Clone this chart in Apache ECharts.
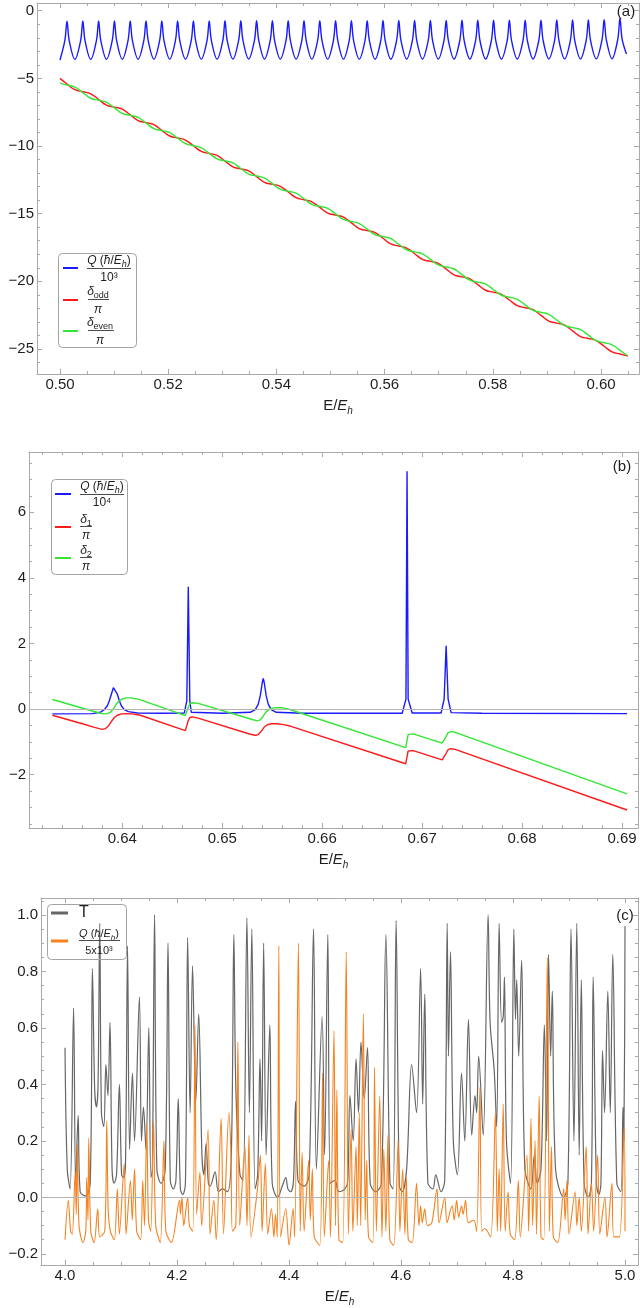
<!DOCTYPE html>
<html><head><meta charset="utf-8">
<script src="https://cdn.jsdelivr.net/npm/echarts@6/dist/echarts.min.js"></script>
<style>html,body{margin:0;padding:0;background:#fff}#c{width:640px;height:1308px}</style>
</head><body><div id="c"></div><script>
// ---------------- DATA ----------------
// Panel (a): Q/10^3 (blue)
const eAQ = [0.5000,
0.50090,0.50130,0.50170,0.50276, 0.50382,0.50422,0.50462,0.50568, 0.50674,0.50714,0.50754,0.50860,
0.50966,0.51006,0.51046,0.51152, 0.51258,0.51298,0.51338,0.51444, 0.51550,0.51590,0.51630,0.51736,
0.51842,0.51882,0.51922,0.52028, 0.52134,0.52174,0.52214,0.52320, 0.52426,0.52466,0.52506,0.52612,
0.52718,0.52758,0.52798,0.52904, 0.53010,0.53050,0.53090,0.53196, 0.53302,0.53342,0.53382,0.53488,
0.53594,0.53634,0.53674,0.53780, 0.53886,0.53926,0.53966,0.54072, 0.54178,0.54218,0.54258,0.54364,
0.54470,0.54510,0.54550,0.54656, 0.54762,0.54802,0.54842,0.54948, 0.55054,0.55094,0.55134,0.55240,
0.55346,0.55386,0.55426,0.55532, 0.55638,0.55678,0.55718,0.55824, 0.55930,0.55970,0.56010,0.56116,
0.56222,0.56262,0.56302,0.56408, 0.56514,0.56554,0.56594,0.56700, 0.56806,0.56846,0.56886,0.56992,
0.57098,0.57138,0.57178,0.57284, 0.57390,0.57430,0.57470,0.57576, 0.57682,0.57722,0.57762,0.57868,
0.57974,0.58014,0.58054,0.58160, 0.58266,0.58306,0.58346,0.58452, 0.58558,0.58598,0.58638,0.58744,
0.58850,0.58890,0.58930,0.59036, 0.59142,0.59182,0.59222,0.59328, 0.59434,0.59474,0.59514,0.59620,
0.59726,0.59766,0.59806,0.59912, 0.60018,0.60058,0.60098,0.60204, 0.60310,0.60350,0.60390,0.60470];
const qA = [-3.65,
-2.2,-0.78,-2.2,-3.60, -2.2,-0.76,-2.2,-3.60, -2.2,-0.76,-2.2,-3.59,
-2.2,-0.75,-2.2,-3.59, -2.2,-0.75,-2.2,-3.59, -2.2,-0.75,-2.2,-3.58,
-2.2,-0.75,-2.2,-3.58, -2.2,-0.75,-2.2,-3.58, -2.2,-0.75,-2.2,-3.58,
-2.2,-0.75,-2.2,-3.58, -2.2,-0.74,-2.2,-3.58, -2.2,-0.74,-2.2,-3.58,
-2.2,-0.74,-2.2,-3.58, -2.2,-0.74,-2.2,-3.58, -2.2,-0.74,-2.2,-3.58,
-2.2,-0.73,-2.2,-3.58, -2.2,-0.73,-2.2,-3.58, -2.2,-0.73,-2.2,-3.58,
-2.2,-0.73,-2.2,-3.58, -2.2,-0.73,-2.2,-3.58, -2.2,-0.72,-2.2,-3.58,
-2.2,-0.72,-2.2,-3.57, -2.2,-0.72,-2.2,-3.57, -2.2,-0.72,-2.2,-3.57,
-2.2,-0.72,-2.2,-3.57, -2.2,-0.71,-2.2,-3.57, -2.2,-0.71,-2.2,-3.57,
-2.2,-0.71,-2.2,-3.57, -2.2,-0.70,-2.2,-3.57, -2.2,-0.70,-2.2,-3.56,
-2.2,-0.70,-2.2,-3.56, -2.2,-0.69,-2.2,-3.56, -2.2,-0.69,-2.2,-3.56,
-2.2,-0.68,-2.2,-3.56, -2.15,-0.66,-2.15,-3.55, -2.1,-0.55,-2.1,-3.20];
// Panel (a): delta_odd/pi (red) and delta_even/pi (green), sampled at resonances and midpoints
const eA = [0.5000,0.50130,0.50276,0.50422,0.50568,0.50714,0.50860,0.51006,0.51152,0.51298,0.51444,0.51590,
0.51736,0.51882,0.52028,0.52174,0.52320,0.52466,0.52612,0.52758,0.52904,0.53050,0.53196,0.53342,0.53488,
0.53634,0.53780,0.53926,0.54072,0.54218,0.54364,0.54510,0.54656,0.54802,0.54948,0.55094,0.55240,0.55386,
0.55532,0.55678,0.55824,0.55970,0.56116,0.56262,0.56408,0.56554,0.56700,0.56846,0.56992,0.57138,0.57284,
0.57430,0.57576,0.57722,0.57868,0.58014,0.58160,0.58306,0.58452,0.58598,0.58744,0.58890,0.59036,0.59182,
0.59328,0.59474,0.59620,0.59766,0.59912,0.60058,0.60204,0.60350,0.60496];
const redA = [-5.00,-5.42,-5.84,-5.99, -6.14,-6.56,-6.98,-7.13, -7.28,-7.70,-8.12,-8.27, -8.42,-8.84,-9.26,-9.41,
-9.56,-9.98,-10.40,-10.55, -10.70,-11.12,-11.54,-11.69, -11.84,-12.26,-12.68,-12.83, -12.98,-13.40,-13.82,-13.97,
-14.12,-14.54,-14.96,-15.11, -15.26,-15.68,-16.10,-16.25, -16.40,-16.82,-17.24,-17.39, -17.54,-17.96,-18.38,-18.53,
-18.68,-19.10,-19.52,-19.67, -19.82,-20.24,-20.66,-20.81, -20.96,-21.38,-21.80,-21.95, -22.10,-22.52,-22.94,-23.09,
-23.24,-23.66,-24.08,-24.23, -24.38,-24.80,-25.22,-25.37, -25.52];
const greenA = [-5.35,-5.50,-5.65,-6.06, -6.47,-6.62,-6.77,-7.18, -7.59,-7.74,-7.89,-8.30, -8.71,-8.86,-9.01,-9.42,
-9.83,-9.98,-10.13,-10.54, -10.95,-11.10,-11.25,-11.66, -12.07,-12.22,-12.37,-12.78, -13.19,-13.34,-13.49,-13.90,
-14.31,-14.46,-14.61,-15.02, -15.43,-15.58,-15.73,-16.14, -16.55,-16.70,-16.85,-17.26, -17.67,-17.82,-17.97,-18.38,
-18.79,-18.94,-19.09,-19.50, -19.91,-20.06,-20.21,-20.62, -21.03,-21.18,-21.33,-21.74, -22.15,-22.30,-22.45,-22.86,
-23.27,-23.42,-23.57,-23.98, -24.39,-24.54,-24.69,-25.10, -25.51];

// Panel (b): Q/10^4 (blue), delta_1/pi (red), delta_2/pi (green)
const eBQ = [0.6330,0.6370,0.6378,0.6382,0.6385,0.6387,0.6389,0.6391,0.6392,0.6393,0.6395,0.6397,0.6399,0.6402,0.6406,0.6415,
0.6440,0.6462,0.64645,0.6466,0.64675,0.6469,0.6500,0.6528,0.6533,0.6536,0.6538,0.6540,0.6541,0.6542,0.6544,0.6546,0.6549,0.6554,
0.6580,0.6680,0.66838,0.66849,0.6686,0.6690,0.6719,0.6722,0.6724,0.6726,0.6729,0.6760,0.6905];
const qB = [-0.15,-0.14,-0.10,-0.02,0.10,0.25,0.45,0.65,0.70,0.65,0.45,0.25,0.10,-0.02,-0.08,-0.12,
-0.13,-0.12,0.25,3.73,0.25,-0.10,-0.13,-0.10,-0.02,0.15,0.40,0.80,0.93,0.80,0.40,0.15,-0.02,-0.10,
-0.13,-0.13,0.30,7.25,0.30,-0.12,-0.12,0.30,1.93,0.30,-0.11,-0.13,-0.14];
const eBR = [0.6330,0.6360,0.6372,0.6377,0.6380,0.6383,0.6386,0.6389,0.6392,0.6395,0.6399,0.6404,0.6410,0.6418,0.6463,0.64645,
0.6466,0.64675,0.6470,0.6475,0.6528,0.6533,0.6536,0.6539,0.6542,0.6545,0.6549,0.6554,0.6560,0.6568,0.66835,0.6684,
0.66849,0.6686,0.6688,0.6691,0.6720,0.6722,0.6724,0.6726,0.6729,0.6733,0.6905];
const rB = [-0.19,-0.45,-0.56,-0.60,-0.62,-0.60,-0.52,-0.38,-0.26,-0.19,-0.15,-0.14,-0.15,-0.19,-0.66,-0.60,
-0.35,-0.26,-0.24,-0.27,-0.77,-0.80,-0.78,-0.68,-0.55,-0.48,-0.45,-0.45,-0.47,-0.52,-1.67,-1.62,
-1.45,-1.28,-1.25,-1.27,-1.55,-1.50,-1.35,-1.24,-1.21,-1.23,-3.08];
const eBG = [0.6330,0.6370,0.6378,0.6382,0.6385,0.6388,0.6391,0.6394,0.6397,0.6400,0.6404,0.6409,0.6416,0.6463,0.64645,0.6466,
0.64675,0.6470,0.6476,0.6530,0.6535,0.6538,0.6541,0.6544,0.6548,0.6553,0.6559,0.6566,0.66835,0.6684,0.66849,0.6686,
0.6688,0.6691,0.6720,0.6722,0.6724,0.6726,0.6729,0.6733,0.6905];
const gB = [0.29,-0.06,-0.13,-0.15,-0.14,-0.10,0.00,0.15,0.25,0.31,0.34,0.34,0.30,-0.20,-0.15,0.05,
0.16,0.19,0.17,-0.32,-0.36,-0.33,-0.22,-0.08,0.01,0.04,0.04,0.00,-1.18,-1.13,-0.96,-0.78,
-0.74,-0.76,-1.04,-0.99,-0.84,-0.72,-0.69,-0.71,-2.59];

// Panel (c): T (gray)
const eT = [4.000,4.004,4.009,4.0153,4.019,4.0234,4.027,4.0365,4.045,4.0489,
4.053,4.0562,4.059,4.062,4.065,4.0693,4.073,4.0766,4.0803,4.084,
4.0876,4.092,4.0971,4.101,4.1044,4.108,4.1117,4.1153,4.1204,4.1241,
4.1328,4.1365,4.1401,4.1445,4.1496,4.1533,4.156,4.1599,4.164,4.1715,
4.179,4.1839,4.188,4.1934,4.198,4.2022,4.206,4.2102,4.215,4.219,
4.2234,4.2277,4.2336,4.2387,4.2445,4.248,4.2518,4.256,4.2591,4.2679,
4.274,4.281,4.29,4.297,4.3015,4.3051,4.3124,4.318,4.3248,4.3292,
4.3336,4.3394,4.344,4.3482,4.3511,4.3547,4.3591,4.3657,4.37,4.3796,
4.388,4.3942,4.398,4.4029,4.408,4.4117,4.416,4.427,4.436,4.4438,
4.4489,4.4591,4.4635,4.4693,4.474,4.4818,4.4891,4.5,4.505,4.5088,
4.5146,4.5197,4.5241,4.5285,4.5343,4.5401,4.545,4.5547,4.565,4.573,
4.5803,4.586,4.5912,4.597,4.6022,4.61,4.619,4.6277,4.635,4.6387,
4.6423,4.648,4.6569,4.662,4.6715,4.678,4.6825,4.6847,4.6883,4.6934,
4.7007,4.708,4.7139,4.7204,4.7263,4.7321,4.735,4.7387,4.7467,4.7555,
4.7591,4.7664,4.7708,4.7752,4.7796,4.7825,4.7847,4.7883,4.7956,4.8015,
4.8044,4.8066,4.8102,4.8153,4.8212,4.8321,4.838,4.8431,4.85,4.856,
4.86,4.8635,4.8672,4.8701,4.8759,4.8905,4.898,4.9036,4.9088,4.9139,
4.9182,4.9219,4.927,4.9343,4.94,4.9431,4.9489,4.9533,4.957,4.9599,
4.9635,4.9693,4.9737,4.9781,4.9854,4.9927,4.9964,4.998,5.0];
const tC = [0.53,0.10,0.03,0.67,0.05,0.29,0.02,0.005,0.05,0.81,
0.38,0.32,0.40,0.97,0.30,0.25,0.47,0.36,0.62,0.10,
0.05,0.08,0.40,0.08,0.07,0.12,0.89,0.17,0.44,0.20,
0.71,0.20,0.32,0.17,0.60,0.07,0.10,1.00,0.10,0.05,
0.10,0.90,0.06,0.03,0.06,0.35,0.03,0.01,0.05,0.92,
0.30,0.82,0.34,0.65,0.15,0.08,0.19,0.05,0.04,0.09,
0.02,0.03,0.02,0.15,0.93,0.38,0.08,0.06,0.99,0.30,
0.95,0.03,0.08,0.49,0.20,0.90,0.15,0.61,0.05,0.00,
0.04,0.07,0.03,0.02,0.06,0.34,0.06,0.04,0.08,0.95,
0.10,0.64,0.15,0.93,0.05,0.06,0.02,0.03,0.06,0.36,
0.20,0.49,0.30,0.55,0.35,0.53,0.05,0.02,0.05,0.93,
0.05,0.03,0.98,0.04,0.02,0.10,0.47,0.30,0.81,0.33,
0.72,0.05,0.03,0.08,0.02,0.06,0.97,0.50,0.87,0.20,
0.08,0.44,0.20,0.63,0.22,0.36,0.30,0.50,0.22,1.00,
0.62,0.45,0.25,0.97,0.62,0.64,0.78,0.20,0.05,0.95,
0.63,0.77,0.50,0.84,0.10,0.03,0.15,0.05,0.10,0.61,
0.20,0.86,0.50,0.73,0.10,0.00,0.05,0.95,0.20,0.97,
0.15,0.77,0.05,0.00,0.05,0.78,0.05,0.01,0.05,0.52,
0.30,0.73,0.30,0.86,0.05,0.02,0.32,0.20,0.96];
// Panel (c): Q/(5x10^3) (orange)
const eQc = [4.000,4.0058,4.010,4.013,4.0182,4.020,4.0219,4.025,4.032,4.037,
4.0387,4.041,4.0423,4.046,4.052,4.0584,4.062,4.071,4.0745,4.077,
4.081,4.088,4.0934,4.097,4.1058,4.109,4.1168,4.120,4.1241,4.128,
4.135,4.1387,4.142,4.146,4.149,4.153,4.158,4.162,4.170,4.1766,
4.180,4.190,4.2044,4.206,4.2088,4.212,4.219,4.222,4.228,4.2321,
4.235,4.2409,4.244,4.2555,4.259,4.2657,4.270,4.2788,4.283,4.2927,
4.2963,4.299,4.305,4.3088,4.312,4.3212,4.325,4.3285,4.332,4.3431,
4.3489,4.352,4.3577,4.362,4.3686,4.373,4.3759,4.379,4.3818,4.385,
4.3942,4.400,4.4073,4.410,4.4168,4.420,4.4234,4.427,4.435,4.438,
4.4416,4.445,4.455,4.4599,4.463,4.4708,4.474,4.4803,4.483,4.4854,
4.489,4.496,4.5022,4.506,4.5109,4.514,4.5197,4.522,4.5255,4.528,
4.5328,4.536,4.5387,4.542,4.550,4.5526,4.556,4.562,4.566,4.5693,
4.573,4.5766,4.580,4.587,4.5949,4.598,4.6029,4.607,4.6095,4.613,
4.620,4.6277,4.632,4.635,4.638,4.6423,4.647,4.655,4.6642,4.668,
4.6781,4.682,4.6912,4.695,4.6993,4.703,4.708,4.711,4.7153,4.720,
4.7299,4.735,4.7409,4.744,4.7496,4.760,4.7686,4.772,4.7752,4.778,
4.7825,4.786,4.7912,4.795,4.803,4.8095,4.813,4.8248,4.828,4.8321,
4.835,4.8394,4.842,4.8467,4.850,4.855,4.8613,4.865,4.8686,4.872,
4.880,4.8905,4.893,4.8964,4.900,4.9109,4.914,4.9182,4.922,4.9307,
4.934,4.9401,4.944,4.9511,4.955,4.9642,4.968,4.9766,4.980,4.990,
4.9985,5.000];
const qC = [-0.15,-0.01,-0.12,-0.13,0.09,-0.06,0.19,-0.10,-0.16,-0.12,
0.07,-0.08,0.21,-0.12,-0.16,-0.04,-0.14,-0.12,0.27,-0.04,
-0.12,-0.15,0.03,-0.13,0.12,-0.13,0.06,-0.08,0.10,-0.12,
-0.15,0.06,-0.10,0.26,-0.08,-0.12,0.27,-0.10,-0.16,0.20,
-0.12,-0.16,-0.01,-0.06,0.00,-0.10,0.00,-0.10,-0.12,0.61,
-0.06,0.09,-0.10,0.24,-0.13,-0.01,-0.15,0.28,-0.13,0.30,
0.15,-0.12,-0.10,0.55,-0.10,0.18,-0.10,0.22,-0.14,0.02,
0.15,-0.12,0.12,-0.13,-0.04,-0.14,-0.06,-0.14,0.89,-0.14,
-0.04,-0.17,-0.04,-0.14,0.90,-0.12,0.16,-0.12,0.13,-0.08,
0.10,-0.14,-0.17,0.44,-0.14,0.13,-0.14,0.59,-0.10,0.38,
-0.15,-0.16,0.87,-0.13,0.24,-0.12,0.18,-0.10,0.30,-0.10,
0.65,-0.08,0.13,-0.14,-0.16,0.46,-0.12,0.36,-0.14,0.17,
-0.12,0.22,-0.15,-0.17,0.20,-0.12,0.10,-0.13,0.07,-0.15,
-0.16,0.05,-0.10,-0.03,-0.09,-0.04,-0.10,-0.09,0.03,-0.09,
0.00,-0.09,-0.03,-0.08,-0.01,-0.07,-0.03,-0.06,-0.01,-0.09,
-0.08,-0.12,0.39,-0.12,-0.11,-0.14,0.30,-0.12,0.10,-0.12,
0.33,-0.12,0.02,-0.13,-0.15,0.06,-0.14,0.15,-0.12,0.28,
-0.10,0.20,-0.13,0.36,-0.14,-0.15,0.85,-0.12,0.18,-0.14,
-0.16,0.03,-0.08,0.06,-0.13,0.02,-0.10,0.00,-0.12,0.18,
-0.13,0.05,-0.12,0.15,-0.13,0.00,-0.14,0.05,-0.14,-0.14,
0.25,-0.12];

// ---------------- STYLE / LAYOUT ----------------
const FONT = "'Liberation Sans', Arial, Helvetica, sans-serif";
const TXT = '#1e1e1e';
const AXC = '#a9a9a9';
const C_BLUE = '#1a1aff', C_RED = '#ff1a1a', C_GREEN = '#33e633', C_GRAY = '#666666', C_ORANGE = '#f5821f';

const zip = (xs, ys) => xs.map((x, i) => [x, ys[i]]);
function ticks(a, b, step) { const n = Math.round((b - a) / step); const o = []; for (let i = 0; i <= n; i++) o.push(+(a + i * step).toFixed(6)); return o; }
const fmtMinus = s => s.replace('-', '\u2212');

const PANELS = [
  { rect: {left: 37, top: 3, width: 602, height: 371}, xr: [0.49575, 0.60702], yr: [-26.85, 0.57],
    xMaj: ticks(0.50, 0.60, 0.02), xMin: ticks(0.50, 0.605, 0.005), xDec: 2,
    yMaj: ticks(-25, 0, 5), yMin: ticks(-26, 0, 1), yDec: 0 },
  { rect: {left: 29, top: 452, width: 609, height: 376}, xr: [0.63066, 0.6916], yr: [-3.628, 7.835],
    xMaj: ticks(0.64, 0.69, 0.01), xMin: ticks(0.632, 0.690, 0.002), xDec: 2,
    yMaj: ticks(-2, 6, 2), yMin: ticks(-3.5, 7.5, 0.5), yDec: 0 },
  { rect: {left: 41, top: 898, width: 597, height: 369}, xr: [3.9571, 5.0232], yr: [-0.2394, 1.0599],
    xMaj: ticks(4.0, 5.0, 0.2), xMin: ticks(4.0, 5.0, 0.05), xDec: 1,
    yMaj: ticks(-0.2, 1.0, 0.2), yMin: ticks(-0.2, 1.05, 0.05), yDec: 1 }
];

const nameRich = {
  r: {fontSize: 15, fontFamily: FONT, color: TXT, lineHeight: 20},
  i: {fontSize: 15, fontFamily: FONT, color: TXT, fontStyle: 'italic', lineHeight: 20},
  s: {fontSize: 10, fontFamily: FONT, color: TXT, fontStyle: 'italic', verticalAlign: 'bottom'}
};

const grid = [], xAxis = [], yAxis = [];
PANELS.forEach((p, g) => {
  grid.push(Object.assign({containLabel: false}, p.rect));
  const lineOn = {show: true, onZero: false, lineStyle: {color: AXC, width: 1}};
  const lineOff = {show: false, onZero: false};
  const tk = (vals, len) => ({show: true, inside: true, length: len, customValues: vals, lineStyle: {color: AXC, width: 1}});
  const base = (r) => ({type: 'value', gridIndex: g, min: r[0], max: r[1], scale: true, splitLine: {show: false}, axisPointer: {show: false}});
  const lab = (vals, dec) => ({show: true, customValues: vals, formatter: v => fmtMinus(Number(v).toFixed(dec)), margin: 3, color: TXT, fontSize: 15, fontFamily: FONT});
  xAxis.push(Object.assign(base(p.xr), {position: 'bottom', axisLine: lineOn, axisTick: tk(p.xMaj, 5), axisLabel: lab(p.xMaj, p.xDec),
    name: '{r|E/}{i|E}{s|h}', nameLocation: 'middle', nameGap: 22, nameTextStyle: {fontSize: 15, fontFamily: FONT, color: TXT, rich: nameRich}}));
  xAxis.push(Object.assign(base(p.xr), {position: 'bottom', axisLine: lineOff, axisTick: tk(p.xMin, 3), axisLabel: {show: false}}));
  xAxis.push(Object.assign(base(p.xr), {position: 'top', axisLine: lineOn, axisTick: tk(p.xMaj, 5), axisLabel: {show: false}}));
  xAxis.push(Object.assign(base(p.xr), {position: 'top', axisLine: lineOff, axisTick: tk(p.xMin, 3), axisLabel: {show: false}}));
  yAxis.push(Object.assign(base(p.yr), {position: 'left', axisLine: lineOn, axisTick: tk(p.yMaj, 5), axisLabel: lab(p.yMaj, p.yDec)}));
  yAxis.push(Object.assign(base(p.yr), {position: 'left', axisLine: lineOff, axisTick: tk(p.yMin, 3), axisLabel: {show: false}}));
  yAxis.push(Object.assign(base(p.yr), {position: 'right', axisLine: lineOn, axisTick: tk(p.yMaj, 5), axisLabel: {show: false}}));
  yAxis.push(Object.assign(base(p.yr), {position: 'right', axisLine: lineOff, axisTick: tk(p.yMin, 3), axisLabel: {show: false}}));
});

const S = (g, data, color, width, smooth, extra) => Object.assign({
  type: 'line', xAxisIndex: 4 * g, yAxisIndex: 4 * g, data, showSymbol: false, symbol: 'none',
  smooth, lineStyle: {color, width}, itemStyle: {color}, silent: true, animation: false
}, extra || {});
const zeroLine = {silent: true, symbol: 'none', label: {show: false}, lineStyle: {color: '#b4b4b4', width: 1, type: 'solid'}, data: [{yAxis: 0}], animation: false};

const series = [
  S(0, zip(eAQ, qA), C_BLUE, 1.4, 0.35),
  S(0, zip(eA, redA), C_RED, 1.4, 0.45),
  S(0, zip(eA, greenA), C_GREEN, 1.4, 0.45),
  S(1, zip(eBQ, qB), C_BLUE, 1.4, false, {markLine: zeroLine, z: 3}),
  S(1, zip(eBR, rB), C_RED, 1.4, false),
  S(1, zip(eBG, gB), C_GREEN, 1.4, false),
  S(2, zip(eT, tC), C_GRAY, 1.2, 0.35, {markLine: zeroLine}),
  S(2, zip(eQc, qC), C_ORANGE, 1.1, 0.3)
];

// ---------------- LEGENDS (graphic) ----------------
const RICH = sz => ({
  i: {fontStyle: 'italic', fontSize: sz, fontFamily: FONT, fill: TXT, lineHeight: 16},
  s: {fontStyle: 'italic', fontSize: Math.round(sz * 0.75), fontFamily: FONT, fill: TXT, verticalAlign: 'bottom'},
  n: {fontSize: Math.round(sz * 0.75), fontFamily: FONT, fill: TXT, verticalAlign: 'bottom'}
});
function T(x, y, text, size, extra) {
  return {type: 'text', x, y, z: 100, style: Object.assign({text, fontSize: size, fontFamily: FONT, fill: TXT, align: 'center', verticalAlign: 'middle', lineHeight: 16, rich: RICH(size)}, extra || {})};
}
function L(x1, y1, x2, y2, color, w) { return {type: 'line', z: 100, shape: {x1, y1, x2, y2}, style: {stroke: color, lineWidth: w}}; }
function BOX(x, y, w, h) { return {type: 'rect', z: 99, shape: {x, y, width: w, height: h, r: 4}, style: {fill: 'none', stroke: '#a3a3a3', lineWidth: 1}}; }
const QTXT = '{i|Q} ({i|ħ}/{i|E}{s|h})';

const graphics = [
  T(626, 12, '(a)', 15), T(622, 467, '(b)', 15), T(625, 916, '(c)', 15),
  // legend (a)
  BOX(58.5, 253.5, 78, 94),
  L(63, 268, 78, 268, C_BLUE, 2), T(109, 261, QTXT, 12), L(87, 268.5, 131, 268.5, TXT, 0.8), T(109, 278, '10³', 12),
  L(63, 300, 78, 300, C_RED, 2), T(98, 292, '{i|δ}{n|odd}', 12), L(88, 299.5, 109, 299.5, TXT, 0.8), T(98, 310, '{i|π}', 12),
  L(63, 331, 78, 331, C_GREEN, 2), T(100, 323, '{i|δ}{n|even}', 12), L(88, 330.5, 114, 330.5, TXT, 0.8), T(100, 341, '{i|π}', 12),
  // legend (b)
  BOX(51.5, 479.5, 76, 95),
  L(55, 494, 71, 494, C_BLUE, 2), T(102, 487, QTXT, 12), L(80, 494.5, 124, 494.5, TXT, 0.8), T(102, 503, '10⁴', 12),
  L(55, 527, 71, 527, C_RED, 2), T(86, 520, '{i|δ}{n|1}', 12), L(80, 526.5, 92, 526.5, TXT, 0.8), T(86, 536, '{i|π}', 12),
  L(55, 558, 71, 558, C_GREEN, 2), T(86, 551, '{i|δ}{n|2}', 12), L(80, 557.5, 92, 557.5, TXT, 0.8), T(86, 567, '{i|π}', 12),
  // legend (c)
  BOX(47.5, 904.5, 79, 55),
  L(51, 913, 68, 913, C_GRAY, 3), T(84, 913, 'T', 16),
  L(51, 941, 68, 941, C_ORANGE, 3), T(99, 934, QTXT, 11), L(79, 940.5, 120, 940.5, TXT, 0.8), T(99, 951, '5x10³', 11)
];

const chart = echarts.init(document.getElementById('c'), null, {renderer: 'canvas'});
chart.setOption({
  animation: false,
  backgroundColor: '#ffffff',
  textStyle: {fontFamily: FONT},
  grid, xAxis, yAxis, series,
  graphic: {elements: graphics}
});
</script></body></html>
